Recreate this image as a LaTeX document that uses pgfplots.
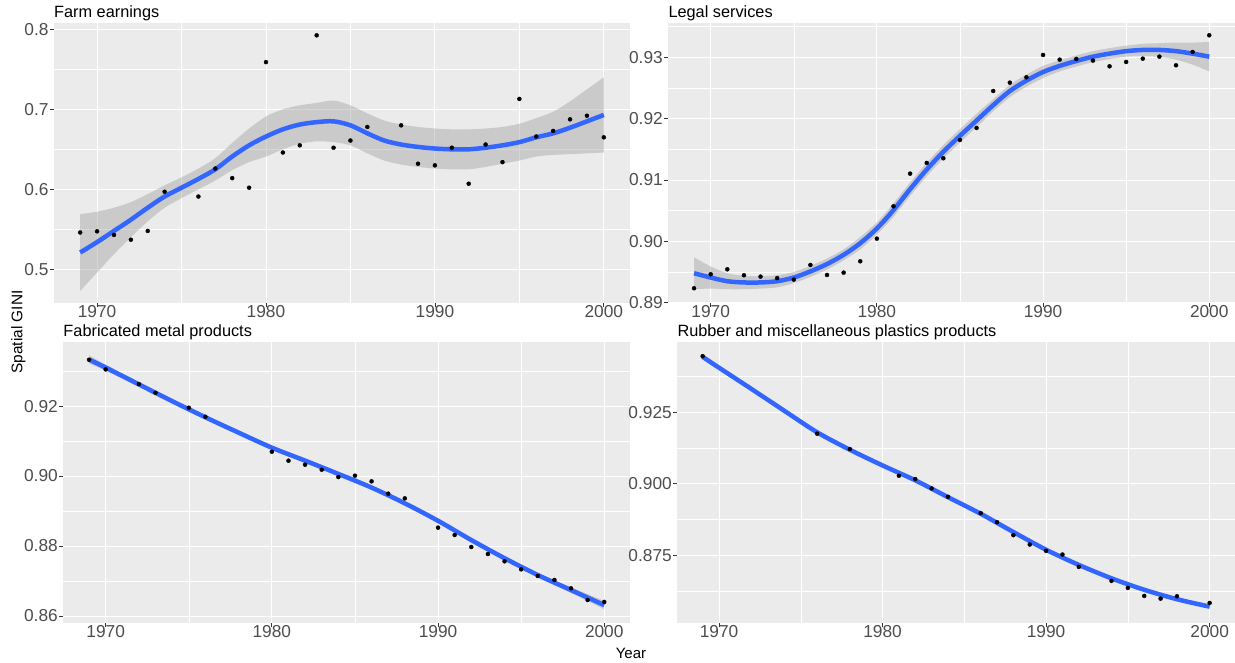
\documentclass[border=0pt]{standalone}
\usepackage{fontspec}
\setmainfont{Liberation Sans}
\usepackage{pgfplots}
\usepackage{pgfplotstable}
\pgfplotsset{compat=1.18}

\definecolor{panelbg}{HTML}{EBEBEB}
\definecolor{ribbon}{HTML}{999999}
\definecolor{fitblue}{HTML}{3366FF}
\definecolor{ticklab}{HTML}{4D4D4D}
\definecolor{tickcol}{HTML}{333333}

% loess fit and half width of the band
\pgfplotstableread{
year fit hw
1969 0.521 0.048
1970 0.534 0.038
1971 0.548 0.029
1972 0.562 0.022
1973 0.577 0.017
1974 0.591 0.014
1975 0.602 0.013
1976 0.613 0.013
1977 0.625 0.014
1978 0.641 0.017
1979 0.655 0.021
1980 0.666 0.025
1981 0.675 0.025
1982 0.681 0.024
1983 0.684 0.024
1984 0.685 0.026
1985 0.680 0.025
1986 0.670 0.025
1987 0.661 0.025
1988 0.656 0.025
1989 0.653 0.025
1990 0.651 0.025
1991 0.650 0.025
1992 0.650 0.025
1993 0.652 0.024
1994 0.655 0.023
1995 0.659 0.023
1996 0.665 0.024
1997 0.670 0.027
1998 0.677 0.033
1999 0.685 0.040
2000 0.693 0.047
}\farmfit
\pgfplotstableread{
year g
1969 0.546
1970 0.5475
1971 0.543
1972 0.537
1973 0.548
1974 0.597
1976 0.591
1977 0.626
1978 0.614
1979 0.602
1980 0.759
1981 0.646
1982 0.655
1983 0.7925
1984 0.652
1985 0.661
1986 0.678
1988 0.680
1989 0.632
1990 0.630
1991 0.652
1992 0.607
1993 0.656
1994 0.634
1995 0.713
1996 0.666
1997 0.673
1998 0.6875
1999 0.692
2000 0.665
}\farmpts

\pgfplotstableread{
year fit hw
1969 0.8948 0.0026
1970 0.8941 0.0018
1971 0.8935 0.0013
1972 0.8933 0.0011
1973 0.8933 0.0010
1974 0.8935 0.0010
1975 0.8941 0.0009
1976 0.8951 0.0009
1977 0.8963 0.0009
1978 0.8978 0.0009
1979 0.8997 0.0010
1980 0.9021 0.0010
1981 0.9051 0.0011
1982 0.9085 0.0011
1983 0.9117 0.0011
1984 0.9146 0.0011
1985 0.9172 0.0011
1986 0.9197 0.0011
1987 0.9222 0.0010
1988 0.9245 0.0010
1989 0.9262 0.0010
1990 0.9276 0.0010
1991 0.9286 0.0009
1992 0.9294 0.0009
1993 0.9301 0.0009
1994 0.9306 0.0009
1995 0.9310 0.0009
1996 0.9312 0.0010
1997 0.9312 0.0011
1998 0.9310 0.0014
1999 0.9306 0.0018
2000 0.9301 0.0024
}\legalfit
\pgfplotstableread{
year g
1969 0.89235
1970 0.89463
1971 0.89544
1972 0.89447
1973 0.89425
1974 0.8940
1975 0.89376
1976 0.89615
1977 0.89452
1978 0.8949
1979 0.89675
1980 0.90044
1981 0.90571
1982 0.91104
1983 0.91278
1984 0.91354
1985 0.91653
1986 0.91848
1987 0.92451
1988 0.92587
1989 0.92674
1990 0.93038
1991 0.92962
1992 0.92973
1993 0.92946
1994 0.92853
1995 0.92924
1996 0.92978
1997 0.93011
1998 0.9287
1999 0.93087
2000 0.93359
}\legalpts

\pgfplotstableread{
year fit hw
1969 0.9333 0.0012
1970 0.9310 0.0009
1972 0.9262 0.0007
1974 0.9214 0.0006
1976 0.9168 0.0006
1978 0.9124 0.0006
1980 0.9081 0.0006
1982 0.9044 0.0006
1984 0.9006 0.0006
1986 0.8967 0.0006
1988 0.8922 0.0006
1990 0.8872 0.0006
1992 0.8817 0.0006
1994 0.8765 0.0006
1996 0.8717 0.0006
1998 0.8674 0.0008
2000 0.8631 0.0012
}\fabfit
\pgfplotstableread{
year g
1969 0.93324
1970 0.93048
1972 0.92629
1973 0.92381
1975 0.91952
1976 0.91695
1980 0.90695
1981 0.90438
1982 0.90324
1983 0.90181
1984 0.89971
1985 0.9001
1986 0.89848
1987 0.89495
1988 0.89362
1990 0.88524
1991 0.88314
1992 0.87971
1993 0.87771
1994 0.87562
1995 0.87333
1996 0.87143
1997 0.87029
1998 0.8679
1999 0.86457
2000 0.864
}\fabpts

\pgfplotstableread{
year fit hw
1969 0.9444 0.0007
1970 0.9406 0.0005
1972 0.9331 0.0004
1974 0.9255 0.0004
1976 0.9180 0.0004
1978 0.9119 0.0004
1980 0.9064 0.0004
1982 0.9012 0.0004
1984 0.8953 0.0004
1986 0.8895 0.0004
1988 0.8831 0.0004
1990 0.8769 0.0004
1992 0.8716 0.0004
1994 0.8669 0.0004
1996 0.8629 0.0004
1998 0.8596 0.0005
2000 0.8570 0.0007
}\rubfit
\pgfplotstableread{
year g
1969 0.94463
1976 0.91752
1978 0.91215
1981 0.9028
1982 0.90164
1983 0.89836
1984 0.89544
1986 0.88972
1987 0.88657
1988 0.88201
1989 0.87874
1990 0.87652
1991 0.87523
1992 0.87091
1994 0.86601
1995 0.86355
1996 0.86075
1997 0.85981
1998 0.86063
2000 0.85829
}\rubpts

\pgfplotsset{
  ggpanel/.style={
    scale only axis,
    anchor=south west,
    xmin=1967.45, xmax=2001.55,
    axis background/.style={fill=panelbg},
    axis line style={draw=none},
    grid=both,
    major grid style={white, line width=0.9pt},
    minor grid style={white, line width=0.45pt},
    xtick={1970,1980,1990,2000},
    minor xtick={1975,1985,1995},
    tick align=outside,
    tick pos=left,
    major tick length=4pt,
    minor tick length=0pt,
    tick style={tickcol, line width=0.8pt},
    /pgf/number format/assume math mode=true,
    ticklabel style={font=\fontsize{17.3}{20}\selectfont, text=ticklab},
    xticklabel style={/pgf/number format/1000 sep={}, yshift=5pt},
    yticklabel style={xshift=2pt},
    title style={at={(0,1)}, anchor=base west, yshift=-1pt, inner sep=0pt,
      font=\fontsize{16.3}{19}\selectfont},
  },
  yfmt/.style={yticklabel style={/pgf/number format/.cd, fixed, fixed zerofill, precision=#1}},
}

% points first, band over them, fit line on top
\newcommand{\smoothpanel}[2]{%
  \addplot[only marks, mark=*, mark size=2pt, black] table[x=year, y=g]{#2};
  \addplot[draw=none, smooth, stack plots=y] table[x=year, y expr=\thisrow{fit}-\thisrow{hw}]{#1};
  \addplot[fill=ribbon, fill opacity=0.4, draw=none, smooth, stack plots=y] table[x=year, y expr=2*\thisrow{hw}]{#1} \closedcycle;
  \addplot[fitblue, line width=4.5pt, smooth] table[x=year, y=fit]{#1};
}

\begin{document}
\begin{tikzpicture}
\useasboundingbox (0,0) rectangle (1235pt,662pt);

\begin{axis}[ggpanel, at={(54pt,359pt)}, width=576pt, height=280.3pt,
  ymin=0.4579, ymax=0.8083, ytick={0.5,0.6,0.7,0.8}, minor ytick={0.55,0.65,0.75},
  yfmt=1, title={Farm earnings}]
\smoothpanel{\farmfit}{\farmpts}
\end{axis}

\begin{axis}[ggpanel, at={(668.3pt,359pt)}, width=566.7pt, height=280.3pt,
  ymin=0.88995, ymax=0.93564, ytick={0.89,0.90,0.91,0.92,0.93},
  minor ytick={0.895,0.905,0.915,0.925,0.935},
  yfmt=2, title={Legal services}]
\smoothpanel{\legalfit}{\legalpts}
\end{axis}

\begin{axis}[ggpanel, at={(63.3pt,38.7pt)}, width=566.7pt, height=281.6pt,
  ymin=0.8579, ymax=0.9384, ytick={0.86,0.88,0.90,0.92},
  minor ytick={0.87,0.89,0.91,0.93},
  yfmt=2, title={Fabricated metal products}]
\smoothpanel{\fabfit}{\fabpts}
\end{axis}

\begin{axis}[ggpanel, at={(677.3pt,38.7pt)}, width=557.7pt, height=281.6pt,
  ymin=0.85117, ymax=0.9497, ytick={0.875,0.900,0.925},
  minor ytick={0.8625,0.8875,0.9125,0.9375},
  yfmt=3, title={Rubber and miscellaneous plastics products}]
\smoothpanel{\rubfit}{\rubpts}
\end{axis}

\node[rotate=90, font=\fontsize{15.4}{18}\selectfont] at (18.5pt,330pt) {Spatial GINI};
\node[font=\fontsize{15}{18}\selectfont] at (631pt,9pt) {Year};
\end{tikzpicture}
\end{document}
